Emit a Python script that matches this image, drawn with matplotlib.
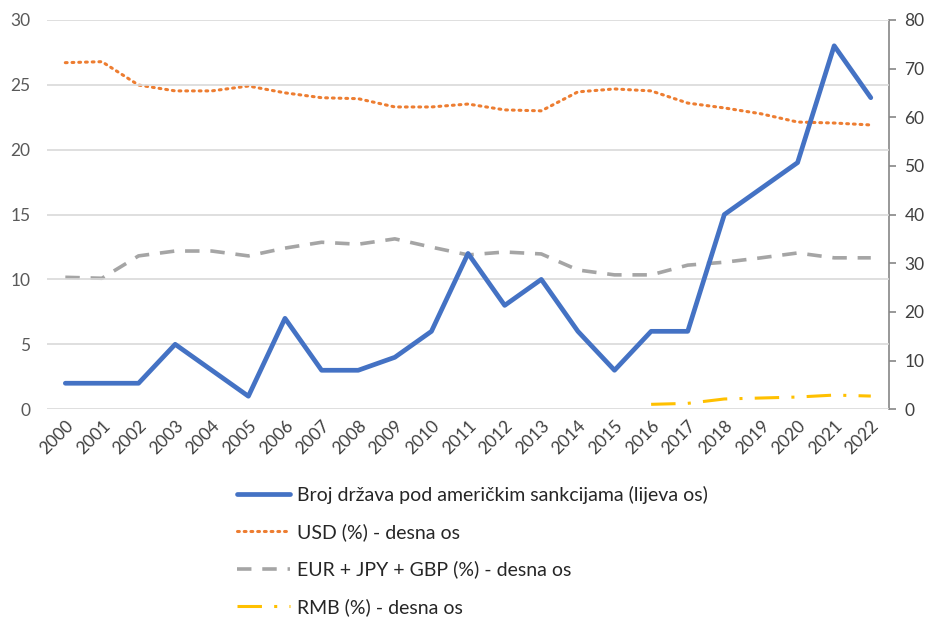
import matplotlib
matplotlib.use("Agg")
import matplotlib.pyplot as plt
from matplotlib.lines import Line2D

plt.rcParams['font.family'] = ['Lato', 'DejaVu Sans']

years = list(range(2000, 2023))
sanctions = [2, 2, 2, 5, 3, 1, 7, 3, 3, 4, 6, 12, 8, 10, 6, 3, 6, 6, 15, 17, 19, 28, 24]
usd = [71.2, 71.4, 66.6, 65.4, 65.4, 66.4, 65.0, 64.0, 63.8, 62.1, 62.1, 62.7, 61.5, 61.3,
       65.2, 65.8, 65.4, 62.9, 61.9, 60.7, 59.0, 58.8, 58.4]
eur_jpy_gbp = [27.1, 26.9, 31.5, 32.5, 32.5, 31.5, 33.1, 34.3, 33.9, 35.0, 33.3, 31.7, 32.3, 31.9,
               28.6, 27.6, 27.6, 29.6, 30.2, 31.1, 32.1, 31.1, 31.1]
rmb_years = [2016, 2017, 2018, 2019, 2020, 2021, 2022]
rmb = [1.0, 1.2, 2.1, 2.3, 2.5, 2.9, 2.7]

labels = ["Broj država pod američkim sankcijama (lijeva os)",
          "USD (%) - desna os",
          "EUR + JPY + GBP (%) - desna os",
          "RMB (%) - desna os"]

fig = plt.figure(figsize=(9.31, 6.2), dpi=100)
ax = fig.add_axes([0.0505, 0.340, 0.9045, 0.628])
ax2 = ax.twinx()

x = list(range(len(years)))
xr = [years.index(y) for y in rmb_years]

ax.set_zorder(ax2.get_zorder() + 1)
ax.patch.set_visible(False)

l1, = ax.plot(x, sanctions, color='#4472C4', lw=3.4, solid_joinstyle='round', solid_capstyle='round')
l2, = ax2.plot(x, usd, color='#ED7D31', lw=2.2, linestyle=(0, (0.6, 1.6)), dash_capstyle='round')
l3, = ax2.plot(x, eur_jpy_gbp, color='#A5A5A5', lw=2.6, linestyle=(0, (4, 3)))
l4, = ax2.plot(xr, rmb, color='#FFC000', lw=2.2, linestyle=(0, (8, 4, 1, 4)))

ax.set_xlim(-0.5, 22.5)
ax.set_ylim(0, 30)
ax2.set_ylim(0, 80)
ax.set_yticks(range(0, 31, 5))
ax2.set_yticks(range(0, 81, 10))
ax.yaxis.grid(True, color='#D9D9D9', lw=1.2)
ax.set_axisbelow(True)

for a in (ax, ax2):
    for s in ['top', 'left', 'bottom']:
        a.spines[s].set_visible(False)
ax.spines['right'].set_visible(False)
ax2.spines['right'].set_color('#868686')
ax2.spines['right'].set_linewidth(1.2)

ax.tick_params(axis='y', length=0, labelsize=12.5, labelcolor='#595959', pad=12)
ax2.tick_params(axis='y', length=5, width=1.2, color='#868686', labelsize=12.5, labelcolor='#404040', pad=6)
ax.set_xticks(x)
ax.set_xticklabels([str(y) for y in years], rotation=45, ha='right', rotation_mode='anchor',
                   fontsize=12.5, color='#404040')
ax.tick_params(axis='x', length=0, pad=6)

handles = [l1, l2, l3, l4]
fig.legend(handles, labels, loc='upper left', bbox_to_anchor=(0.246, 0.229), frameon=False,
           fontsize=14, handlelength=2.75, handletextpad=0.35, labelspacing=1.0,
           labelcolor='#262626', borderaxespad=0)

fig.savefig('out.png', dpi=100)
